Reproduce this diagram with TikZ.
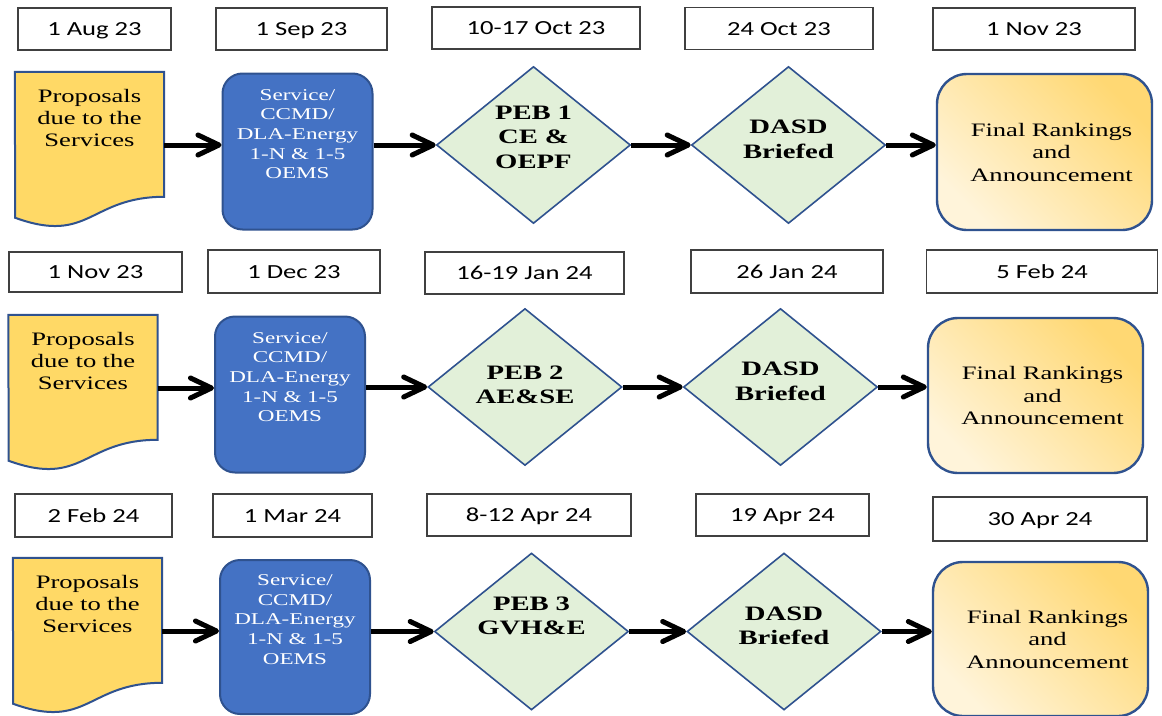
\documentclass[tikz,border=0pt]{standalone}
\usepackage{fontspec}
\setmainfont{Liberation Serif}[FakeStretch=1.4]
\newfontfamily\datefont{Carlito}[FakeStretch=1.33]
\usetikzlibrary{shapes.geometric,arrows.meta,backgrounds}

\definecolor{docgold}{HTML}{FFD966}
\definecolor{boxblue}{HTML}{4472C4}
\definecolor{edgeblue}{HTML}{2F528F}
\definecolor{pebgreen}{HTML}{E2F0D9}
\definecolor{finlight}{HTML}{FFF4DA}
\definecolor{findark}{HTML}{FFD873}

\begin{document}
\begin{tikzpicture}[x=1pt, y=-1pt,
  datebox/.style={draw=black!75, line width=1.2pt, minimum height=42pt, inner sep=0pt, text height=13pt, text depth=0pt, font=\datefont\fontsize{20}{24}\selectfont},
  docbox/.style={minimum width=149pt, minimum height=146pt, inner sep=3pt, text width=143pt, align=center, text height=14pt, text depth=100pt, font=\fontsize{19}{22}\selectfont},
  docline/.style={draw=edgeblue, line width=2pt, fill=docgold},
  svcbox/.style={draw=edgeblue, line width=2pt, fill=boxblue, rounded corners=20pt, minimum width=150pt, minimum height=156pt, inner sep=4pt, text width=142pt, align=center, text=white, text height=12pt, text depth=115pt, font=\fontsize{16.5}{19.7}\selectfont},
  pebbox/.style={diamond, aspect=1.23, draw=edgeblue, line width=1.6pt, fill=pebgreen, minimum width=194pt, minimum height=157pt, inner sep=0pt, text width=120pt, align=center, text height=0pt, text depth=#1, font=\bfseries\fontsize{20.5}{24.5}\selectfont},
  finbox/.style={draw=edgeblue, line width=2.4pt, rounded corners=30pt, minimum width=215pt, minimum height=156pt, text width=190pt, align=center, top color=findark, bottom color=finlight, shading angle=-45, font=\fontsize{19}{22.5}\selectfont},
  flow/.style={line width=5pt, -{Straight Barb[length=21pt, width=20pt, round]}}]
  \useasboundingbox (0,0) rectangle (1162,715);

  % first round
  \node[datebox, minimum width=153pt] (date11) at (94.5,29) {1 Aug 23};
  \node[datebox, minimum width=171pt] (date12) at (301.5,29) {1 Sep 23};
  \node[datebox, minimum width=208pt] (date13) at (536,28) {10-17 Oct 23};
  \node[datebox, minimum width=188pt] (date14) at (779,28.5) {24 Oct 23};
  \node[datebox, minimum width=202pt] (date15) at (1034,29) {1 Nov 23};
  \node[docbox] (prop1) at (89.5,145) {Proposals\\due to the\\Services};
  \node[svcbox] (svc1) at (297.5,151.5) {Service/\\CCMD/\\DLA-Energy\\1-N \& 1-5\\OEMS};
  \node[pebbox=52pt] (peb1) at (533.5,145) {PEB 1\\CE \&\\OEPF};
  \node[pebbox=23pt] (dasd1) at (788.5,145) {DASD\\Briefed};
  \node[finbox] (fin1) at (1044.5,152) {\hspace*{14pt}Final Rankings\\\hspace*{14pt}and\\\hspace*{14pt}Announcement};

  % second round
  \node[datebox, minimum width=173pt, minimum height=40pt] (date21) at (95.5,272) {1 Nov 23};
  \node[datebox, minimum width=172pt, minimum height=43pt] (date22) at (294,271.5) {1 Dec 23};
  \node[datebox, minimum width=199pt] (date23) at (524.5,273) {16-19 Jan 24};
  \node[datebox, minimum width=192pt, minimum height=43pt] (date24) at (787,271.5) {26 Jan 24};
  \node[datebox, minimum width=231pt, minimum height=43pt] (date25) at (1042,271.5) {5 Feb 24};
  \node[docbox] (prop2) at (83,388) {Proposals\\due to the\\Services};
  \node[svcbox] (svc2) at (290,394.5) {Service/\\CCMD/\\DLA-Energy\\1-N \& 1-5\\OEMS};
  \node[pebbox=16pt] (peb2) at (525,387) {PEB 2\\AE\&SE};
  \node[pebbox=23pt] (dasd2) at (780.5,387) {DASD\\Briefed};
  \node[finbox, minimum height=155pt] (fin2) at (1035.5,395.5) {\hspace*{14pt}Final Rankings\\\hspace*{14pt}and\\\hspace*{14pt}Announcement};

  % third round
  \node[datebox, minimum width=157pt, minimum height=43pt] (date31) at (93.5,515.5) {2 Feb 24};
  \node[datebox, minimum width=159pt, minimum height=43pt] (date32) at (292.5,515.5) {1 Mar 24};
  \node[datebox, minimum width=204pt] (date33) at (529,515) {8-12 Apr 24};
  \node[datebox, minimum width=173pt] (date34) at (782.5,515) {19 Apr 24};
  \node[datebox, minimum width=214pt, minimum height=44pt] (date35) at (1040,519) {30 Apr 24};
  \node[docbox] (prop3) at (87.5,631) {Proposals\\due to the\\Services};
  \node[svcbox, minimum height=154pt] (svc3) at (295,637) {Service/\\CCMD/\\DLA-Energy\\1-N \& 1-5\\OEMS};
  \node[pebbox=43pt] (peb3) at (531.5,631.5) {PEB 3\\GVH\&E};
  \node[pebbox=23pt] (dasd3) at (784,631.5) {DASD\\Briefed};
  \node[finbox, minimum height=154pt] (fin3) at (1040.5,639) {\hspace*{14pt}Final Rankings\\\hspace*{14pt}and\\\hspace*{14pt}Announcement};

  % document outlines
  \begin{scope}[on background layer]
    \foreach \r in {1,2,3}
      \draw[docline] (prop\r.north west) -- (prop\r.north east) -- ++(0,125)
        .. controls +(-74.5,0) and +(74.5,27) .. ++(-149,21) -- cycle;
  \end{scope}

  \foreach \r in {1,2,3}
    \path[flow] (prop\r) edge (prop\r -| svc\r.west)
                (svc\r.east |- peb\r) edge (peb\r)
                (peb\r) edge (dasd\r)
                (dasd\r) edge (dasd\r -| fin\r.west);
\end{tikzpicture}
\end{document}
